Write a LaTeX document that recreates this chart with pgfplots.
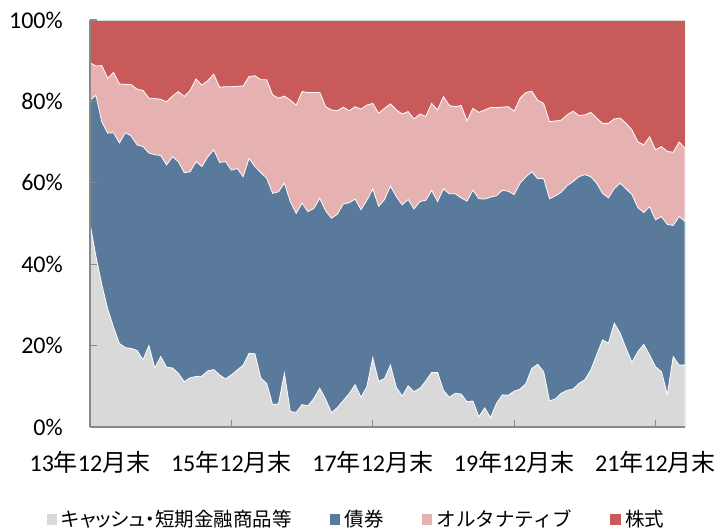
\documentclass[border=0pt]{standalone}
\usepackage{fontspec}
\setmainfont{Carlito}
\newfontfamily\cjk{Noto Sans CJK JP}
\newfontfamily\cjkp{Noto Sans CJK JP}[RawFeature=+palt]
\usepackage{pgfplots}
\usepackage{pgfplotstable}
\pgfplotsset{compat=1.18}
\definecolor{eqred}{RGB}{200,90,90}
\definecolor{altpink}{RGB}{229,178,177}
\definecolor{bondblue}{RGB}{89,122,155}
\definecolor{cashgray}{RGB}{217,217,217}
\definecolor{axisgray}{RGB}{137,137,137}
\definecolor{lightborder}{RGB}{215,215,215}
% cumulative shares: c1 = cash, c2 = cash+bonds, c3 = cash+bonds+alternatives
\pgfplotstableread{
m c1 c2 c3
0 50.0 80.3 89.5
1 42.0 81.5 88.7
2 35.0 75.0 88.8
3 29.0 72.2 85.7
4 24.5 72.3 87.1
5 20.5 69.8 84.3
6 19.5 72.3 84.2
7 19.3 71.5 84.1
8 18.8 69.3 83.0
9 16.5 68.9 82.7
10 20.0 67.3 80.8
11 14.5 66.9 80.7
12 17.3 66.7 80.5
13 14.7 64.4 79.9
14 14.5 66.4 81.3
15 13.2 65.2 82.4
16 11.1 62.5 81.2
17 12.1 62.7 82.7
18 12.4 65.2 85.5
19 12.5 64.0 84.0
20 13.8 66.4 85.1
21 14.1 68.1 86.7
22 12.8 65.0 83.5
23 11.8 65.2 83.6
24 12.8 63.1 83.6
25 14.0 63.5 83.7
26 15.2 61.5 83.8
27 18.1 66.0 86.1
28 18.0 64.0 86.3
29 12.0 62.5 85.3
30 10.7 61.1 85.3
31 5.5 57.4 81.6
32 5.7 57.8 80.8
33 13.2 59.9 81.3
34 3.8 55.4 80.3
35 3.6 52.5 79.1
36 5.5 55.0 82.4
37 5.2 52.9 82.2
38 7.0 53.7 82.2
39 9.5 56.2 82.2
40 6.8 53.1 78.7
41 3.5 51.3 77.9
42 4.8 52.3 77.7
43 6.5 54.8 78.6
44 8.2 55.1 77.7
45 10.4 56.0 78.7
46 7.3 53.4 78.1
47 9.9 55.7 79.1
48 17.0 58.5 79.5
49 11.2 54.2 77.1
50 11.9 55.9 78.3
51 15.2 59.2 79.4
52 9.7 56.6 77.9
53 7.6 54.6 76.9
54 10.1 55.9 77.5
55 8.7 53.6 75.7
56 9.5 55.4 76.9
57 11.3 55.7 76.3
58 13.4 58.1 79.5
59 13.4 55.4 77.9
60 9.0 58.5 81.2
61 7.3 57.3 79.0
62 8.3 57.3 78.7
63 8.1 56.3 79.0
64 6.2 55.5 75.2
65 6.4 58.2 78.3
66 2.5 56.1 77.3
67 4.7 56.0 77.9
68 2.3 56.5 78.5
69 5.8 56.8 78.5
70 7.9 58.2 78.6
71 7.8 57.9 78.7
72 8.8 57.1 77.6
73 9.3 59.9 80.8
74 10.7 61.5 82.2
75 14.4 62.7 82.5
76 15.4 61.0 80.3
77 13.6 61.1 79.5
78 6.4 56.1 75.0
79 6.9 56.8 75.2
80 8.3 57.7 75.4
81 9.0 59.3 76.7
82 9.3 60.3 77.6
83 10.7 61.5 76.5
84 11.6 62.0 76.7
85 14.0 61.5 77.3
86 17.7 59.9 75.9
87 21.4 57.4 74.6
88 20.6 56.3 74.6
89 25.5 58.6 75.7
90 23.0 59.9 75.9
91 19.3 58.5 74.6
92 15.9 57.1 73.0
93 18.5 53.9 70.1
94 20.3 52.7 69.3
95 17.7 54.1 71.3
96 14.8 50.9 68.1
97 13.6 51.7 68.9
98 8.0 49.8 67.7
99 17.3 49.5 67.5
100 15.2 51.7 70.0
101 15.2 50.5 68.5
}\alloc
\begin{document}
\begin{tikzpicture}
\begin{axis}[
  name=ax,
  width=595bp, height=407bp, scale only axis,
  xmin=0, xmax=101, ymin=0, ymax=100,
  axis on top,
  axis background/.style={fill=eqred},
  axis lines*=left,
  axis line style={axisgray, line width=1.6bp},
  tick align=inside,
  major tick length=7bp,
  tick style={axisgray, line width=1.2bp},
  xtick={0,24,48,72,96},
  xticklabels={13{\cjk 年}12{\cjk 月末},15{\cjk 年}12{\cjk 月末},17{\cjk 年}12{\cjk 月末},19{\cjk 年}12{\cjk 月末},21{\cjk 年}12{\cjk 月末}},
  ytick={0,20,40,60,80,100},
  yticklabels={0\%,20\%,40\%,60\%,80\%,100\%},
  ticklabel style={font=\fontsize{24bp}{28bp}\selectfont, inner sep=0pt},
  xticklabel style={anchor=center, yshift=-35bp},
  yticklabel style={anchor=east, xshift=-27bp},
  legend columns=4,
  legend cell align=left,
  legend style={at={(0.446,-0.2265)}, anchor=center, draw=none, fill=none, inner sep=0pt,
    font=\fontsize{19.5bp}{24bp}\selectfont,
    nodes={inner sep=0pt},
    /tikz/every odd column/.style={column sep=4.5bp},
    /tikz/every even column/.style={column sep=38bp}},
  legend image code/.code={\fill[#1,draw=none] (0bp,-5.5bp) rectangle (10.5bp,5.5bp);},
]
\addlegendimage{fill=cashgray}
\addlegendentry{\cjkp キャッシュ・短期金融商品等}
\addlegendimage{fill=bondblue}
\addlegendentry{\cjk 債券}
\addlegendimage{fill=altpink}
\addlegendentry{\cjk オルタナティブ}
\addlegendimage{fill=eqred}
\addlegendentry{\cjk 株式}
\addplot[forget plot, fill=altpink, draw=white, line width=0.8bp] table[x=m, y=c3] {\alloc} \closedcycle;
\addplot[forget plot, fill=bondblue, draw=white, line width=0.8bp] table[x=m, y=c2] {\alloc} \closedcycle;
\addplot[forget plot, fill=cashgray, draw=white, line width=0.8bp] table[x=m, y=c1] {\alloc} \closedcycle;
\draw[lightborder, line width=0.9bp] (rel axis cs:0,1) -- (rel axis cs:1,1) -- (rel axis cs:1,0);
\end{axis}
\pgfresetboundingbox
\path[use as bounding box] (ax.south west) ++(-90bp,-104bp) rectangle ++(716bp,531bp);
\end{tikzpicture}
\end{document}
